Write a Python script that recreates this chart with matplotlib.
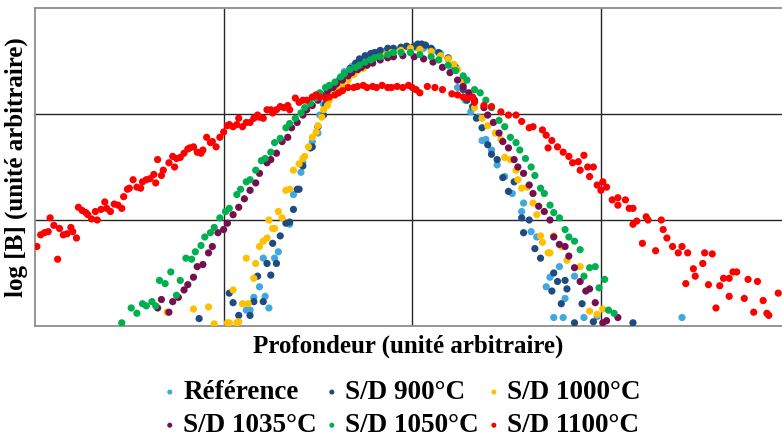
import matplotlib
matplotlib.use("Agg")
import matplotlib.pyplot as plt

# ---- data (arbitrary units: depth 0..4, log[B] 0..3) ----
series_names = ["Référence", "S/D 900°C", "S/D 1000°C", "S/D 1035°C", "S/D 1050°C", "S/D 1100°C"]
series_colors = ["#40A7DF", "#1F4B7E", "#FFC000", "#760F50", "#00B050", "#FF0000"]

ref_x = [1.12, 1.14, 1.16, 1.19, 1.22, 1.24, 1.21, 1.27, 1.29, 1.35, 1.37, 1.41, 1.42, 1.47, 1.50, 1.51, 1.53,
         1.55, 1.58, 1.61, 1.64, 1.68, 1.72, 1.77, 1.81, 1.85, 1.89, 1.94, 1.98, 2.02, 2.06, 2.11, 2.15, 2.19,
         2.22, 2.24, 2.28, 2.31, 2.35, 2.37, 2.39, 2.42, 2.45, 2.49, 2.53, 2.58, 2.59, 2.63, 2.66, 2.71, 2.73,
         2.78, 2.81, 2.86, 2.75, 2.80, 2.91, 2.98, 3.43]
ref_y = [0.15, 0.15, 0.27, 0.37, 0.28, 0.17, 0.64, 0.64, 0.70, 0.96, 1.24, 1.45, 1.54, 1.74, 1.82, 1.99, 2.09,
         2.17, 2.25, 2.32, 2.40, 2.45, 2.50, 2.55, 2.58, 2.59, 2.61, 2.62, 2.63, 2.63, 2.62, 2.60, 2.57, 2.52,
         2.43, 2.25, 2.13, 2.02, 1.97, 1.75, 1.76, 1.66, 1.52, 1.41, 1.25, 1.08, 1.16, 0.89, 0.84, 0.37, 0.46,
         0.56, 0.26, 0.47, 0.08, 0.08, 0.08, 0.09, 0.08]

sd900_x = [0.87, 1.03, 1.05, 1.08, 1.14, 1.16, 1.18, 1.21, 1.23, 1.25, 1.26, 1.28, 1.30, 1.33, 1.35, 1.37, 1.39,
           1.40, 1.42, 1.46, 1.47, 1.50, 1.53, 1.54, 1.56, 1.59, 1.62, 1.64, 1.67, 1.70, 1.72, 1.75, 1.78, 1.80,
           1.83, 1.87, 1.90, 1.94, 1.97, 2.01, 2.03, 2.05, 2.07, 2.10, 2.14, 2.19, 2.23, 2.27, 2.29, 2.32, 2.34,
           2.37, 2.40, 2.42, 2.45, 2.48, 2.51, 2.54, 2.58, 2.62, 2.59, 2.65, 2.68, 2.75, 2.77, 2.81, 2.82, 2.74,
           2.79, 2.90, 2.86, 2.96, 3.17]
sd900_y = [0.07, 0.31, 0.22, 0.10, 0.10, 0.23, 0.47, 0.23, 0.59, 0.48, 0.78, 0.59, 0.85, 0.97, 0.98, 1.10, 1.29,
           1.29, 1.51, 1.68, 1.69, 1.88, 1.99, 2.09, 2.19, 2.26, 2.33, 2.38, 2.43, 2.48, 2.52, 2.55, 2.57, 2.58,
           2.60, 2.62, 2.62, 2.63, 2.64, 2.64, 2.66, 2.66, 2.65, 2.62, 2.58, 2.53, 2.44, 2.23, 2.13, 2.07, 1.96,
           1.87, 1.71, 1.62, 1.57, 1.40, 1.27, 1.36, 1.02, 1.00, 0.88, 0.73, 0.64, 0.50, 0.42, 0.43, 0.35, 0.33,
           0.21, 0.21, 0.03, 0.04, 0.03]

sd1000_x = [0.70, 0.84, 0.92, 0.95, 1.02, 1.03, 1.05, 1.07, 1.08, 1.10, 1.13, 1.12, 1.16, 1.17, 1.19, 1.21, 1.23,
            1.24, 1.26, 1.27, 1.29, 1.31, 1.33, 1.35, 1.37, 1.40, 1.42, 1.43, 1.45, 1.47, 1.49, 1.50, 1.52, 1.53,
            1.55, 1.56, 1.58, 1.61, 1.63, 1.66, 1.69, 1.71, 1.74, 1.77, 1.79, 1.82, 1.86, 1.89, 1.94, 1.99, 2.04,
            2.10, 2.15, 2.19, 2.22, 2.24, 2.27, 2.30, 2.33, 2.37, 2.40, 2.44, 2.47, 2.49, 2.52, 2.55, 2.56, 2.58,
            2.61, 2.64, 2.66, 2.68, 2.69, 2.72, 2.73, 2.75, 2.79, 2.82, 2.89, 2.94, 2.98, 3.01]
sd1000_y = [0.13, 0.16, 0.18, 0.02, 0.03, 0.03, 0.34, 0.03, 0.04, 0.21, 0.21, 0.64, 0.45, 0.59, 0.75, 0.80, 0.83,
            1.00, 0.92, 0.92, 1.08, 1.02, 1.28, 1.29, 1.47, 1.53, 1.58, 1.60, 1.69, 1.78, 1.83, 1.89, 1.97, 2.04,
            2.08, 2.13, 2.18, 2.22, 2.27, 2.32, 2.37, 2.41, 2.43, 2.48, 2.51, 2.53, 2.56, 2.58, 2.60, 2.62, 2.61,
            2.59, 2.55, 2.52, 2.47, 2.42, 2.30, 2.18, 2.06, 1.96, 1.89, 1.82, 1.76, 1.59, 1.57, 1.47, 1.38, 1.30,
            1.31, 1.16, 1.05, 0.85, 0.79, 0.69, 0.69, 0.85, 0.75, 0.62, 0.56, 0.14, 0.11, 0.16]

sd1035_x = [0.65, 0.67, 0.71, 0.73, 0.76, 0.79, 0.81, 0.84, 0.86, 0.89, 0.92, 0.94, 0.97, 1.00, 1.02, 1.05, 1.08,
            1.11, 1.14, 1.17, 1.19, 1.23, 1.25, 1.28, 1.31, 1.34, 1.36, 1.39, 1.42, 1.44, 1.47, 1.50, 1.52, 1.55,
            1.58, 1.60, 1.63, 1.66, 1.68, 1.71, 1.73, 1.76, 1.79, 1.83, 1.87, 1.90, 1.95, 2.01, 2.06, 2.11, 2.16,
            2.20, 2.24, 2.27, 2.30, 2.33, 2.38, 2.40, 2.43, 2.46, 2.48, 2.51, 2.54, 2.56, 2.59, 2.62, 2.64, 2.67,
            2.70, 2.73, 2.75, 2.78, 2.81, 2.83, 2.86, 2.89, 2.92, 2.94, 2.97, 3.01, 3.03, 3.09]
sd1035_y = [0.17, 0.25, 0.13, 0.23, 0.27, 0.34, 0.39, 0.46, 0.56, 0.58, 0.69, 0.75, 0.88, 0.91, 0.97, 1.05, 1.12,
            1.20, 1.28, 1.35, 1.44, 1.54, 1.57, 1.63, 1.74, 1.78, 1.87, 1.92, 1.99, 2.04, 2.08, 2.13, 2.18, 2.22,
            2.25, 2.29, 2.32, 2.36, 2.39, 2.42, 2.44, 2.46, 2.48, 2.51, 2.53, 2.54, 2.55, 2.54, 2.52, 2.49, 2.44,
            2.39, 2.32, 2.26, 2.20, 2.13, 2.06, 1.99, 1.92, 1.82, 1.74, 1.68, 1.57, 1.50, 1.44, 1.33, 1.25, 1.13,
            1.08, 1.00, 0.84, 0.77, 0.75, 0.66, 0.55, 0.42, 0.33, 0.35, 0.22, 0.03, 0.05, 0.08]

sd1050_x = [0.46, 0.51, 0.54, 0.57, 0.59, 0.62, 0.64, 0.66, 0.69, 0.72, 0.75, 0.77, 0.80, 0.83, 0.85, 0.88, 0.90,
            0.93, 0.95, 0.98, 1.01, 1.03, 1.07, 1.09, 1.12, 1.14, 1.17, 1.20, 1.22, 1.25, 1.27, 1.30, 1.33, 1.35,
            1.38, 1.41, 1.43, 1.46, 1.49, 1.51, 1.54, 1.56, 1.59, 1.62, 1.64, 1.67, 1.70, 1.72, 1.75, 1.78, 1.80,
            1.83, 1.87, 1.90, 1.94, 1.99, 2.04, 2.10, 2.14, 2.19, 2.23, 2.27, 2.29, 2.33, 2.36, 2.39, 2.42, 2.46,
            2.49, 2.52, 2.55, 2.57, 2.60, 2.63, 2.65, 2.68, 2.70, 2.73, 2.75, 2.78, 2.81, 2.83, 2.86, 2.89, 2.91,
            2.94, 2.97, 2.99, 3.02, 3.04, 3.07]
sd1050_y = [0.03, 0.17, 0.12, 0.21, 0.19, 0.23, 0.19, 0.43, 0.40, 0.51, 0.29, 0.43, 0.64, 0.63, 0.70, 0.76, 0.84,
            0.88, 0.93, 1.02, 1.08, 1.11, 1.24, 1.29, 1.36, 1.38, 1.47, 1.56, 1.58, 1.64, 1.73, 1.77, 1.87, 1.91,
            1.96, 2.01, 2.06, 2.10, 2.15, 2.20, 2.25, 2.27, 2.30, 2.35, 2.38, 2.42, 2.44, 2.46, 2.49, 2.51, 2.53,
            2.54, 2.56, 2.58, 2.58, 2.58, 2.56, 2.54, 2.51, 2.46, 2.41, 2.36, 2.32, 2.23, 2.20, 2.13, 2.06, 1.94,
            1.88, 1.78, 1.73, 1.66, 1.58, 1.50, 1.42, 1.30, 1.25, 1.14, 1.07, 1.02, 0.91, 0.84, 0.80, 0.72, 0.47,
            0.55, 0.56, 0.36, 0.44, 0.15, 0.12]

sd1100_x = [0.01, 0.03, 0.05, 0.07, 0.08, 0.10, 0.12, 0.13, 0.15, 0.17, 0.19, 0.20, 0.22, 0.23, 0.25, 0.27, 0.28,
            0.30, 0.32, 0.33, 0.35, 0.37, 0.38, 0.40, 0.42, 0.44, 0.46, 0.47, 0.49, 0.50, 0.52, 0.54, 0.56, 0.57,
            0.59, 0.61, 0.63, 0.64, 0.65, 0.67, 0.68, 0.71, 0.73, 0.74, 0.75, 0.77, 0.79, 0.81, 0.82, 0.84, 0.86,
            0.88, 0.89, 0.91, 0.93, 0.94, 0.96, 0.98, 1.00, 1.02, 1.03, 1.05, 1.07, 1.08, 1.10, 1.12, 1.14, 1.16,
            1.18, 1.19, 1.21, 1.23, 1.25, 1.26, 1.28, 1.30, 1.32, 1.34, 1.35, 1.38, 1.40, 1.42, 1.44, 1.47, 1.49,
            1.51, 1.54, 1.56, 1.59, 1.61, 1.63, 1.66, 1.69, 1.71, 1.74, 1.76, 1.79, 1.81, 1.84, 1.87, 1.89, 1.92,
            1.95, 1.98, 2.00, 2.02, 2.04, 2.08, 2.12, 2.16, 2.21, 2.24, 2.27, 2.29, 2.32, 2.33, 2.38, 2.42, 2.47,
            2.51, 2.55, 2.58, 2.62, 2.64, 2.69, 2.71, 2.72, 2.74, 2.77, 2.80, 2.83, 2.85, 2.88, 2.89, 2.91, 2.93,
            2.94, 2.96, 2.98, 3.00, 3.01, 3.03, 3.06, 3.09, 3.09, 3.13, 3.15, 3.17, 3.17, 3.19, 3.22, 3.24, 3.25,
            3.29, 3.32, 3.33, 3.35, 3.38, 3.41, 3.43, 3.45, 3.46, 3.49, 3.50, 3.54, 3.55, 3.57, 3.59, 3.61, 3.63,
            3.65, 3.68, 3.68, 3.70, 3.72, 3.76, 3.78, 3.81, 3.83, 3.86, 3.88, 3.89, 3.94]
sd1100_y = [0.75, 0.86, 0.88, 0.89, 1.02, 0.95, 0.63, 0.92, 0.86, 0.87, 0.93, 0.89, 0.83, 1.12, 1.09, 1.07, 1.05,
            1.01, 1.08, 1.00, 1.10, 1.17, 1.11, 1.08, 1.15, 1.14, 1.11, 1.22, 1.29, 1.30, 1.38, 1.31, 1.30, 1.36,
            1.38, 1.39, 1.43, 1.35, 1.57, 1.42, 1.47, 1.54, 1.60, 1.50, 1.58, 1.59, 1.63, 1.67, 1.68, 1.69, 1.64,
            1.63, 1.66, 1.78, 1.73, 1.74, 1.69, 1.78, 1.83, 1.89, 1.90, 1.88, 1.90, 1.96, 1.88, 1.92, 1.92, 1.96,
            1.99, 1.97, 1.96, 2.04, 2.04, 2.01, 2.04, 2.07, 2.06, 2.08, 2.04, 2.15, 2.11, 2.13, 2.13, 2.16, 2.18,
            2.16, 2.15, 2.16, 2.18, 2.20, 2.22, 2.25, 2.25, 2.26, 2.27, 2.25, 2.26, 2.25, 2.27, 2.25, 2.25, 2.26,
            2.25, 2.27, 2.25, 2.23, 2.20, 2.26, 2.25, 2.23, 2.19, 2.18, 2.16, 2.15, 2.16, 2.11, 2.08, 2.07, 2.02,
            1.99, 1.99, 1.93, 1.87, 1.88, 1.85, 1.80, 1.68, 1.75, 1.69, 1.64, 1.60, 1.54, 1.55, 1.47, 1.61, 1.50,
            1.41, 1.50, 1.33, 1.28, 1.36, 1.31, 1.19, 1.21, 1.14, 1.19, 1.11, 1.11, 0.96, 0.99, 0.78, 1.03, 1.00,
            0.71, 1.00, 0.91, 0.83, 0.75, 0.69, 0.75, 0.40, 0.69, 0.54, 0.47, 0.59, 0.69, 0.39, 0.68, 0.17, 0.38,
            0.45, 0.45, 0.28, 0.51, 0.51, 0.26, 0.44, 0.13, 0.42, 0.24, 0.12, 0.10, 0.31]

xs = [ref_x, sd900_x, sd1000_x, sd1035_x, sd1050_x, sd1100_x]
ys = [ref_y, sd900_y, sd1000_y, sd1035_y, sd1050_y, sd1100_y]

x_grid = [1, 2, 3]
y_grid = [1, 2]

plt.rcParams['font.family'] = ['Liberation Serif', 'DejaVu Serif']

fig = plt.figure(figsize=(7.82, 4.41), dpi=100)
ax = fig.add_axes([35/782, 1-326/441, 1-35/782, (326-8)/441])

handles = []
for x, y, c, n in zip(xs, ys, series_colors, series_names):
    h = ax.scatter(x, y, s=27, color=c, edgecolors='none', label=n, zorder=3)
    handles.append(h)

ax.set_xlim(0, 3.96)
ax.set_ylim(0, 3)
ax.set_xticks(x_grid)
ax.set_yticks(y_grid)
ax.tick_params(length=0, labelbottom=False, labelleft=False)
ax.grid(True, color='#262626', linewidth=1.0, zorder=1)
ax.set_axisbelow(True)
for sp in ax.spines.values():
    sp.set_color('#8c8c8c')
    sp.set_linewidth(1.3)
ax.spines['right'].set_visible(False)

ax.set_xlabel("Profondeur (unité arbitraire)", fontsize=18, fontweight='bold', labelpad=6)
ax.set_ylabel("log [B] (unité arbitraire)", fontsize=18, fontweight='bold', labelpad=5)

# row-wise ordering for a 3-column legend
order = [0, 3, 1, 4, 2, 5]
leg = fig.legend([handles[i] for i in order], [series_names[i] for i in order],
                 loc='center', bbox_to_anchor=(0.514, 0.072), ncol=3, frameon=False,
                 prop={'size': 19.5, 'weight': 'bold'}, markerscale=0.7,
                 handlelength=0.5, handletextpad=0.25, columnspacing=0.3, labelspacing=0.3,
                 borderpad=0.0)

fig.savefig("out.png", dpi=100)
